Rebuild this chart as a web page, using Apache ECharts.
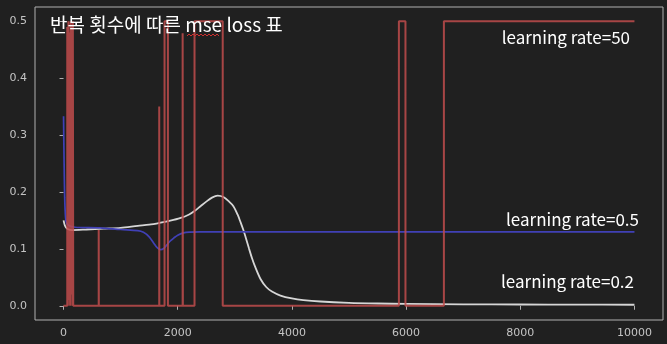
<!DOCTYPE html>
<html>
<head>
<meta charset="utf-8">
<script src="https://cdn.jsdelivr.net/npm/echarts@6/dist/echarts.min.js"></script>
<style>
html,body{margin:0;padding:0;background:#202020;}
#c{width:667px;height:344px;}
</style>
</head>
<body>
<div id="c"></div>
<script>
// ---- data ----
var xTicks = [0, 2000, 4000, 6000, 8000, 10000];
var yTicks = [0.0, 0.1, 0.2, 0.3, 0.4, 0.5];

// learning rate = 0.2 (light curve)
var lr02Iter = [0, 20, 40, 70, 150, 400, 700, 1000, 1300, 1500, 1700, 1870, 2040, 2200, 2300, 2400, 2500, 2600, 2700, 2800, 2900, 2975, 3050, 3100, 3150, 3200, 3250, 3300, 3350, 3450, 3550, 3650, 3800, 4000, 4200, 4500, 5000, 5500, 6000, 7000, 8000, 9000, 10000];
var lr02Loss = [0.15, 0.142, 0.138, 0.135, 0.133, 0.134, 0.1355, 0.137, 0.1405, 0.1425, 0.146, 0.1495, 0.154, 0.1605, 0.167, 0.175, 0.183, 0.19, 0.1935, 0.191, 0.183, 0.175, 0.16, 0.147, 0.133, 0.117, 0.1, 0.084, 0.07, 0.047, 0.033, 0.025, 0.018, 0.013, 0.010, 0.0075, 0.0052, 0.004, 0.0033, 0.0026, 0.0022, 0.002, 0.0018];

// learning rate = 0.5 (blue curve)
var lr05Iter = [0, 10, 20, 35, 50, 90, 200, 640, 1000, 1300, 1400, 1500, 1580, 1640, 1700, 1760, 1810, 1870, 1930, 2000, 2100, 2200, 2400, 10000];
var lr05Loss = [0.333, 0.25, 0.19, 0.155, 0.146, 0.141, 0.138, 0.137, 0.134, 0.132, 0.129, 0.121, 0.11, 0.102, 0.0986, 0.101, 0.107, 0.114, 0.119, 0.124, 0.128, 0.1295, 0.130, 0.130];

// learning rate = 50 (red, jumps)
var lr50Iter = [0, 65, 75, 85, 95, 105, 115, 125, 135, 145, 155, 163, 170, 616, 618, 1676, 1678, 1769, 1828, 2086, 2090, 2294, 2788, 5874, 5989, 6662, 10000];
var lr50Loss = [0, 0.49, 0, 0.5, 0.01, 0.48, 0, 0.5, 0.02, 0.49, 0, 0.5, 0, 0.133, 0, 0.35, 0, 0.5, 0, 0.479, 0, 0.5, 0, 0.5, 0, 0.5, 0.5];

var titleText = '반복 횟수에 따른 mse loss 표';
var labels = ['learning rate=50', 'learning rate=0.5', 'learning rate=0.2'];

function pairs(xs, ys) { return xs.map(function (x, i) { return [x, ys[i]]; }); }

var chart = echarts.init(document.getElementById('c'), null, {renderer: 'canvas'});
var axisGray = '#b0b0b0';
var labelFont = {color: '#c4c4c4', fontFamily: 'DejaVu Sans', fontSize: 11};

var squiggle = [];
for (var i = 0; i <= 16; i++) squiggle.push([187 + i * 2, (i % 2) ? 34 : 36]);

chart.setOption({
  backgroundColor: '#202020',
  animation: false,
  grid: {left: 35, right: 4, top: 7, bottom: 24, show: true, borderColor: axisGray, borderWidth: 1, backgroundColor: 'transparent'},
  xAxis: {
    type: 'value', min: -500, max: 10500,
    axisLine: {show: false},
    splitLine: {show: false},
    axisTick: {show: true, length: 4, lineStyle: {color: axisGray}, customValues: xTicks},
    axisLabel: Object.assign({margin: 8, customValues: xTicks, formatter: function (v) { return String(Math.round(v)); }}, labelFont)
  },
  yAxis: {
    type: 'value', min: -0.025, max: 0.525,
    axisLine: {show: false},
    splitLine: {show: false},
    axisTick: {show: true, length: 4, lineStyle: {color: axisGray}, customValues: yTicks},
    axisLabel: Object.assign({margin: 8, customValues: yTicks, formatter: function (v) { return v.toFixed(1); }}, labelFont)
  },
  series: [
    {type: 'line', name: 'lr=0.2', data: pairs(lr02Iter, lr02Loss), smooth: 0.3, showSymbol: false, lineStyle: {color: '#d6d6d6', width: 1.8}, z: 2},
    {type: 'line', name: 'lr=0.5', data: pairs(lr05Iter, lr05Loss), smooth: 0.3, showSymbol: false, lineStyle: {color: '#4040b6', width: 1.7}, z: 3},
    {type: 'line', name: 'lr=50', data: pairs(lr50Iter, lr50Loss), step: 'end', showSymbol: false, lineStyle: {color: 'rgba(192,76,76,0.85)', width: 2}, z: 4}
  ],
  graphic: [
    {type: 'text', left: 50, top: 15, z: 10, style: {text: titleText, fill: '#ffffff', font: '19px "Noto Sans CJK KR"'}},
    {type: 'polyline', z: 11, shape: {points: squiggle}, style: {stroke: '#d03030', lineWidth: 1, fill: null}},
    {type: 'text', z: 10, x: 630, y: 38, style: {text: labels[0], fill: '#ffffff', font: '17px "Noto Sans CJK KR"', align: 'right', verticalAlign: 'middle'}},
    {type: 'text', z: 10, x: 639, y: 220, style: {text: labels[1], fill: '#ffffff', font: '17px "Noto Sans CJK KR"', align: 'right', verticalAlign: 'middle'}},
    {type: 'text', z: 10, x: 634, y: 282, style: {text: labels[2], fill: '#ffffff', font: '17px "Noto Sans CJK KR"', align: 'right', verticalAlign: 'middle'}}
  ]
});
</script>
</body>
</html>
